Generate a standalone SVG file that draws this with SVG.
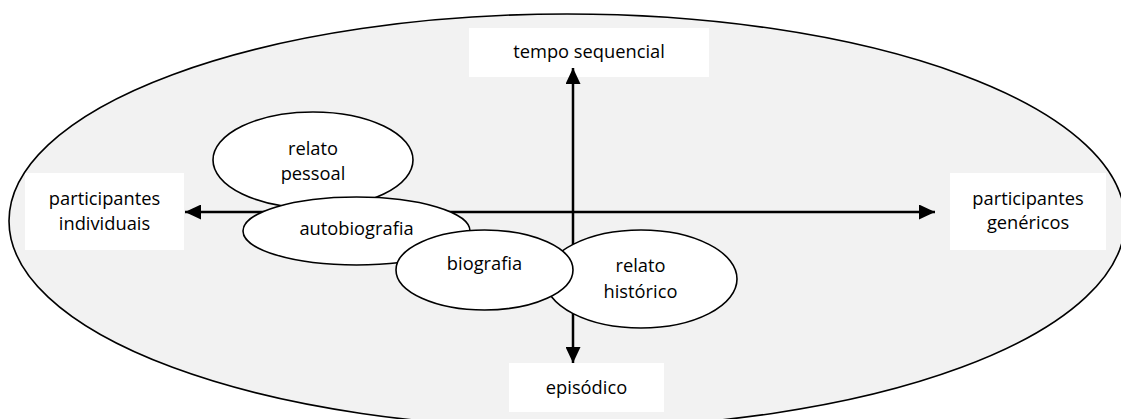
<svg xmlns="http://www.w3.org/2000/svg" width="1121" height="419" viewBox="0 0 1121 419">
  <style>
    .lbl { font-family: "Open Sans", "Liberation Sans", sans-serif; font-size: 18.3px; fill: #000; text-anchor: middle; }
    .box { fill: #ffffff; stroke: none; }
    .node { fill: #ffffff; stroke: #000; stroke-width: 1.6; }
    .axis { stroke: #000; stroke-width: 2.5; fill: none; marker-start: url(#arr); marker-end: url(#arr); }
  </style>
  <defs>
    <marker id="arr" markerUnits="userSpaceOnUse" markerWidth="17" markerHeight="15" refX="16" refY="7.5" orient="auto-start-reverse">
      <path d="M0,0 L16,7.5 L0,15 z" fill="#000"/>
    </marker>
  </defs>
  <rect width="1121" height="419" fill="#ffffff"/>
  <g id="field">
    <ellipse cx="567" cy="221" rx="558" ry="207" fill="#f2f2f2" stroke="#000" stroke-width="1.6"/>
  </g>
  <g id="label-tempo">
    <rect class="box" x="469" y="28" width="240" height="49"/>
    <text class="lbl" x="589" y="58">tempo sequencial</text>
  </g>
  <g id="label-individuais">
    <rect class="box" x="25" y="173" width="159" height="77"/>
    <text class="lbl" x="104.5" y="205">participantes</text>
    <text class="lbl" x="104.5" y="230">individuais</text>
  </g>
  <g id="label-genericos">
    <rect class="box" x="950" y="173" width="156" height="77"/>
    <text class="lbl" x="1028" y="205">participantes</text>
    <text class="lbl" x="1028" y="229">genéricos</text>
  </g>
  <g id="label-episodico">
    <rect class="box" x="509" y="363" width="155" height="49"/>
    <text class="lbl" x="586.5" y="394">episódico</text>
  </g>
  <g id="connectors">
    <line class="axis" x1="185" y1="212" x2="935" y2="212"/>
    <line class="axis" x1="573" y1="363" x2="573" y2="68"/>
  </g>
  <g id="relato-pessoal">
    <ellipse class="node" cx="313" cy="160" rx="100" ry="48"/>
    <text class="lbl" x="313" y="155">relato</text>
    <text class="lbl" x="313" y="180">pessoal</text>
  </g>
  <g id="autobiografia">
    <ellipse class="node" cx="356.5" cy="231" rx="113.5" ry="34"/>
    <text class="lbl" x="356.5" y="235">autobiografia</text>
  </g>
  <g id="relato-historico">
    <ellipse class="node" cx="641" cy="279" rx="96" ry="49"/>
    <text class="lbl" x="640.5" y="272">relato</text>
    <text class="lbl" x="640.5" y="298">histórico</text>
  </g>
  <g id="biografia">
    <ellipse class="node" cx="484.5" cy="270" rx="88.5" ry="40"/>
    <text class="lbl" x="484.5" y="270">biografia</text>
  </g>
</svg>
